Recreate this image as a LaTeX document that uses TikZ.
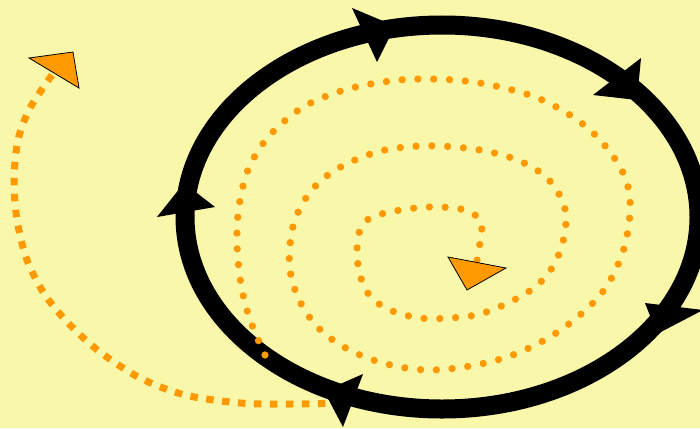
\documentclass[tikz,border=0pt]{standalone}
\definecolor{bg}{RGB}{249,247,170}
\definecolor{orng}{RGB}{255,153,0}
\begin{document}
\begin{tikzpicture}[x=1pt,y=-1pt,
  ring/.style={line width=19pt},
  blackhead/.style={fill=black},
  orangehead/.style={fill=orng,draw=black,line width=0.8pt,line join=miter},
  dotline/.style={orng,line width=7.3pt,line cap=round,dash pattern=on 0pt off 15.8pt},
  dashline/.style={orng,line width=7pt,dash pattern=on 7.5pt off 8.5pt}]
\fill[bg] (0,0) rectangle (700,428);
\useasboundingbox (0,0) rectangle (700,428);
\coordinate (c) at (442,217);
% dashed return curve
\draw[dashline] plot[smooth] coordinates {(52,75) (30,108) (18,140) (14,180) (17,220) (27,260) (45,295) (70,325) (100,352) (140,378) (185,395) (240,403) (290,404) (345,403)};
% black ring
\draw[ring] (c) ellipse [x radius=257pt, y radius=192pt];
\fill[blackhead] (352,8) -- (395,26) -- (377,62) -- cycle;
\fill[blackhead] (641,58) -- (637,100) -- (593,95) -- cycle;
\fill[blackhead] (645,303) -- (657,334) -- (703,310) -- cycle;
\fill[blackhead] (363,374) -- (324,391) -- (343,427) -- cycle;
\fill[blackhead] (157,217) -- (184,183) -- (215,207) -- cycle;
% dotted spiral
\draw[dotline] plot[smooth,tension=0.6] coordinates {(265,355) (252,325) (243,295) (238,260) (237,230) (240,200) (248,170) (262,145) (280,125) (305,106) (335,93) (365,85) (400,80) (430,79) (465,81) (500,87) (535,97) (565,112) (590,130) (610,152) (624,175) (630,200) (628,230) (620,260) (604,290) (580,315) (548,338) (510,356) (470,366) (430,370) (395,366) (360,355) (330,338) (310,318) (297,295) (290,270) (290,245) (295,220) (308,195) (328,175) (355,160) (385,150) (420,146) (455,147) (490,152) (522,162) (547,178) (562,200) (566,220) (562,245) (552,268) (535,287) (510,302) (480,314) (450,318) (420,318) (390,310) (370,296) (360,275) (357,250) (360,230) (370,218) (390,212) (415,208) (440,207) (465,210) (478,218) (482,232) (478,252) (477,262)};
% orange arrowheads
\filldraw[orangehead] (29,58) -- (73,52) -- (79,88) -- cycle;
\filldraw[orangehead] (448,257) -- (506,268) -- (467,290) -- cycle;
\end{tikzpicture}
\end{document}
